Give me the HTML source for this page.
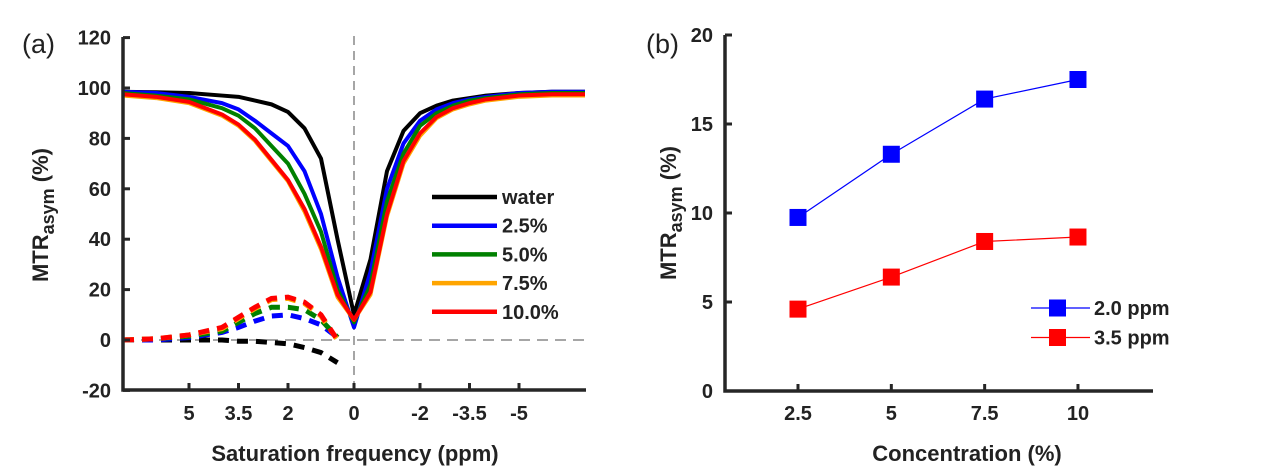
<!DOCTYPE html>
<html><head><meta charset="utf-8"><style>
body{margin:0;background:#fff;width:1266px;height:467px;overflow:hidden}
svg{display:block;font-family:"Liberation Sans",Arial,sans-serif}
</style></head><body>
<svg id="c" width="1266" height="467"></svg>
<script>
const ppm=[7,6,5,4,3.5,3,2.5,2,1.5,1,0.5,0,-0.5,-1,-1.5,-2,-2.5,-3,-3.5,-4,-5,-6,-7];
const seriesNames=["water","2.5%","5.0%","7.5%","10.0%"];
const waterZ=[98.5,98.3,98,97,96.5,95,93.5,90.5,84,72,40,10,32,67,83,90,93,95,96,97,98,98.5,98.5];
const c25Z=[98.5,98,96.5,94,91.5,87,82,77,67,50,25,5,27,60,78,87,91.5,94,95.5,96.5,98,98.5,98.5];
const c50Z=[98,97,95.5,92,89,84,77,70,58,43,20,7,22,55,74,85,90,93,95,96,97.5,98,98];
const c75Z=[97,96,94,89,85,79,71,63,51,36,17,8,18,49,70,81,88,91.5,93.5,95,96.5,97,97];
const c100Z=[97.5,96.5,94.5,89.5,85.5,79.5,71.5,63.5,52,37,18,8,19,50,71,82,88.5,92,94,95.5,97,97.5,97.5];
const asymPpm=[7,6,5,4,3.5,3,2.5,2,1.5,1,0.5];
const waterA=[0,0,0,0,-0.5,-0.5,-1,-1.5,-3,-5,-9];
const c25A=[0,0,1,3,5,7.5,9.5,10,8.5,6,1];
const c50A=[0,0.5,1.5,3.5,7,10.5,13,13,12,8,1];
const c75A=[0,0.5,2,4.5,8.5,12.5,16,16.5,14.5,9.5,0];
const c100A=[0,0.5,2,5,9,13,16.5,17,15,10,0];
const yTicksA=[120,100,80,60,40,20,0,-20];
const xTicksA=[5,3.5,2,0,-2,-3.5,-5];
const conc=[2.5,5,7.5,10];
const ppm20=[9.75,13.3,16.4,17.5];
const ppm35=[4.6,6.4,8.4,8.65];
const yTicksB=[0,5,10,15,20];

const NS="http://www.w3.org/2000/svg",svg=document.getElementById('c');
function el(t,a,txt){const e=document.createElementNS(NS,t);for(const k in a)e.setAttribute(k,a[k]);if(txt!==undefined)e.textContent=txt;svg.appendChild(e);return e;}
const AX="#262626";
const FS=20, TS=22;
const xa=v=>354-v*33, ya=v=>340-v*2.52;
const colors=["#000","#0000ff","#008000","#ffa500","#ff0000"];
const zs=[waterZ,c25Z,c50Z,c75Z,c100Z], as=[waterA,c25A,c50A,c75A,c100A];
let e;
e=el('line',{x1:354,y1:36,x2:354,y2:390,stroke:"#888","stroke-width":1.5,"stroke-dasharray":"9,6"});

e=el('line',{x1:123,y1:340,x2:586,y2:340,stroke:"#888","stroke-width":1.5,"stroke-dasharray":"11,7"});

for(let s=0;s<5;s++){
 e=el('polyline',{points:asymPpm.map((p,i)=>xa(p)+","+ya(as[s][i])).join(" "),fill:"none",stroke:colors[s],"stroke-width":5,"stroke-dasharray":"11,8"});
 
}
for(let s=0;s<5;s++){
 e=el('polyline',{points:ppm.map((p,i)=>xa(p)+","+ya(zs[s][i])).join(" "),fill:"none",stroke:colors[s],"stroke-width":4,"stroke-linejoin":"round"});
 
}
e=el('polyline',{points:"123,37 123,390 586,390",fill:"none",stroke:AX,"stroke-width":3.5});

yTicksA.forEach(v=>{
 e=el('line',{x1:123,y1:ya(v),x2:130,y2:ya(v),stroke:AX,"stroke-width":3});
 
 e=el('text',{x:111,y:ya(v)+7,"text-anchor":"end","font-size":FS,"font-weight":"bold",fill:"#222"},String(v));
 
});
xTicksA.forEach(v=>{
 e=el('line',{x1:xa(v),y1:390,x2:xa(v),y2:383,stroke:AX,"stroke-width":3});
 
 e=el('text',{x:xa(v),y:420,"text-anchor":"middle","font-size":FS,"font-weight":"bold",fill:"#222"},String(v));
 
});
seriesNames.forEach((n,i)=>{
 const y=197+i*28.7;
 e=el('line',{x1:432,y1:y,x2:497,y2:y,stroke:colors[i],"stroke-width":4.5});
 
 e=el('text',{x:502,y:y+7,"font-size":FS,"font-weight":"bold",fill:"#222"},n);
 
});
e=el('text',{x:22,y:53,"font-size":27,fill:"#222"},"(a)");

e=el('text',{x:355,y:461,"text-anchor":"middle","font-size":TS,"font-weight":"bold",fill:"#222"},"Saturation frequency (ppm)");

function ytitle(x,y,name){
 const t=el('text',{transform:`translate(${x},${y}) rotate(-90)`,"text-anchor":"middle","font-size":TS,"font-weight":"bold",fill:"#222"});
 
 t.innerHTML='MTR<tspan font-size="18" dy="6">asym</tspan><tspan dy="-6"> (%)</tspan>';
}
ytitle(48,215,'y-axis-title-a');
const xb=v=>798+(v-2.5)*37.33, yb=v=>391-v*17.8;
e=el('polyline',{points:"725,35 725,391 1153,391",fill:"none",stroke:AX,"stroke-width":3.5});

yTicksB.forEach(v=>{
 e=el('line',{x1:725,y1:yb(v),x2:732,y2:yb(v),stroke:AX,"stroke-width":3});
 
 e=el('text',{x:713,y:yb(v)+7,"text-anchor":"end","font-size":FS,"font-weight":"bold",fill:"#222"},String(v));
 
});
conc.forEach(v=>{
 e=el('line',{x1:xb(v),y1:391,x2:xb(v),y2:384,stroke:AX,"stroke-width":3});
 
 e=el('text',{x:xb(v),y:420,"text-anchor":"middle","font-size":FS,"font-weight":"bold",fill:"#222"},String(v));
 
});
[[ppm20,"#0000ff","2.0 ppm"],[ppm35,"#ff0000","3.5 ppm"]].forEach(([d,col,lab],s)=>{
 e=el('polyline',{points:conc.map((x,i)=>xb(x)+","+yb(d[i])).join(" "),fill:"none",stroke:col,"stroke-width":1.2});
 
 conc.forEach((x,i)=>{
  e=el('rect',{x:xb(x)-8.5,y:yb(d[i])-8.5,width:17,height:17,fill:col});
  
 });
 const ly=308+s*29.5;
 e=el('line',{x1:1031,y1:ly,x2:1090,y2:ly,stroke:col,"stroke-width":1.2});
 
 e=el('rect',{x:1049,y:ly-8.5,width:17,height:17,fill:col});
 
 e=el('text',{x:1094,y:ly+7,"font-size":FS,"font-weight":"bold",fill:"#222"},lab);
 
});
e=el('text',{x:646,y:53,"font-size":27,fill:"#222"},"(b)");

e=el('text',{x:967,y:461,"text-anchor":"middle","font-size":TS,"font-weight":"bold",fill:"#222"},"Concentration (%)");

ytitle(676,213,'y-axis-title-b');
</script>
</body></html>
